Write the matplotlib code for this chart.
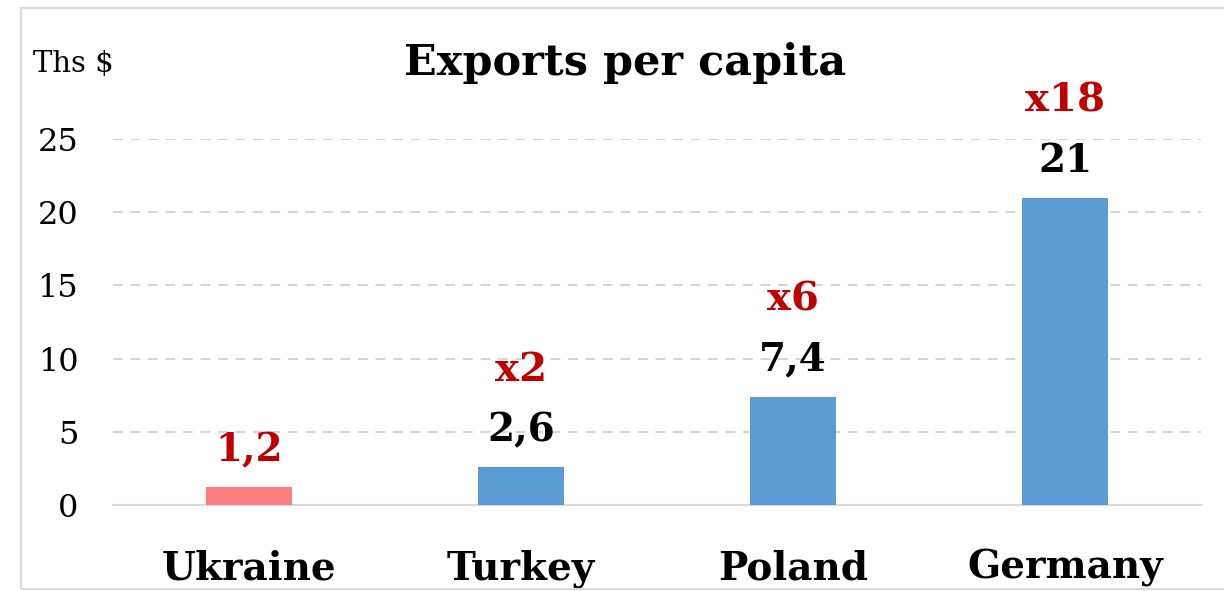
import matplotlib
matplotlib.use("Agg")
import matplotlib.pyplot as plt
from matplotlib.patches import Rectangle

countries = ["Ukraine", "Turkey", "Poland", "Germany"]
values = [1.2, 2.6, 7.4, 21]
value_labels = ["1,2", "2,6", "7,4", "21"]
multiplier_labels = ["", "x2", "x6", "x18"]
yticks = [0, 5, 10, 15, 20, 25]

W, H = 1224, 591
fig = plt.figure(figsize=(W / 100, H / 100), dpi=100)
serif = ["DejaVu Serif"]

# chart border
fig.patches.append(Rectangle((20.5 / W, 2.5 / H), (W + 10) / W, (581) / H,
                             transform=fig.transFigure, fill=False,
                             edgecolor="#D9D9D9", linewidth=1.5))

ax = fig.add_axes([113 / W, (591 - 505) / H, (1201 - 113) / W, (505 - 139) / H])
colors = ["#FF7C80", "#5B9BD5", "#5B9BD5", "#5B9BD5"]
x = list(range(len(countries)))
ax.bar(x, values, width=0.316, color=colors, zorder=3)
ax.set_xlim(-0.5, 3.5)
ax.set_ylim(0, 25)
ax.set_yticks(yticks)
ax.set_yticklabels([str(t) for t in yticks], fontsize=23, family=serif)
ax.tick_params(axis="y", length=0, pad=25)
ax.set_xticks(x)
ax.set_xticklabels(countries, fontsize=28, fontweight="bold", family=serif)
ax.tick_params(axis="x", length=0, pad=32)
for s in ["top", "right", "left"]:
    ax.spines[s].set_visible(False)
ax.spines["bottom"].set_color("#D9D9D9")
ax.spines["bottom"].set_linewidth(1.5)
ax.yaxis.grid(True, color="#D4D4D4", linestyle=(0, (5, 4)), linewidth=1.4, zorder=0)
ax.set_axisbelow(True)

for i, (v, lab, mult) in enumerate(zip(values, value_labels, multiplier_labels)):
    col = "#C00000" if i == 0 else "black"
    ax.annotate(lab, (i, v), xytext=(0, 13), textcoords="offset points",
                ha="center", va="bottom", fontsize=28, fontweight="bold",
                family=serif, color=col, annotation_clip=False)
    if mult:
        ax.annotate(mult, (i, v), xytext=(0, 56), textcoords="offset points",
                    ha="center", va="bottom", fontsize=29, fontweight="bold",
                    family=serif, color="#C00000", annotation_clip=False)

fig.text(625 / W, 1 - 63 / H, "Exports per capita", ha="center", va="center",
         fontsize=31, fontweight="bold", family=serif)
fig.text(33 / W, 1 - 64 / H, "Ths $", ha="left", va="center",
         fontsize=21, family=serif)

fig.savefig("out.png", dpi=100)
